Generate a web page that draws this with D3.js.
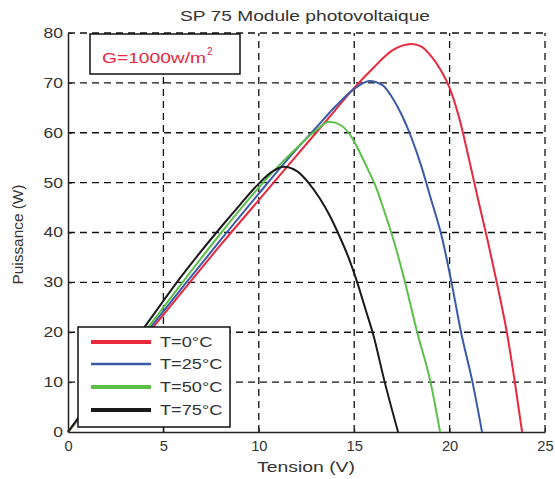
<!DOCTYPE html>
<html>
<head>
<meta charset="utf-8">
<script src="https://cdn.jsdelivr.net/npm/d3@7"></script>
<style>
  body { margin: 0; background: #fff; }
  text { font-family: "Liberation Sans", Arial, sans-serif; fill: #333; }
</style>
</head>
<body>
<div id="chart"></div>
<script>
// tick labels
const xTicks = [0, 5, 10, 15, 20, 25];
const yTicks = [0, 10, 20, 30, 40, 50, 60, 70, 80];

// series: voltage (V) and power (W)
const seriesNames = ["T=0°C", "T=25°C", "T=50°C", "T=75°C"];
const seriesColors = ["#e8283c", "#3a5aa8", "#5cbf4a", "#1a1a1a"];

const vT0 = [0, 2, 4, 6, 8, 10, 12, 14, 15, 16, 17, 18, 18.5, 19, 19.5, 20, 20.5, 21, 21.5, 22, 22.5, 23, 23.4, 23.8];
const pT0 = [0, 9.4, 18.8, 28.2, 37.5, 46.5, 55.5, 64.5, 69, 73, 76.5, 77.8, 77.3, 75.5, 72.8, 69, 63, 55, 46.5, 38.3, 29.5, 20, 10.5, 0];

const vT25 = [0, 2, 4, 6, 8, 10, 12, 13, 14, 15, 15.8, 16.5, 17, 17.5, 18, 18.5, 19, 19.6, 20.1, 20.6, 21.2, 21.7];
const pT25 = [0, 9.7, 19.4, 29, 38.5, 47.8, 56.8, 61, 65.2, 68.8, 70.4, 69.5, 67, 63.5, 59, 53.5, 47, 39, 30, 20, 10, 0];

const vT50 = [0, 2, 4, 6, 8, 10, 11, 12, 13, 13.7, 14.3, 14.8, 15.3, 15.8, 16.1, 16.6, 17.1, 17.6, 18.3, 19, 19.5];
const pT50 = [0, 10, 20, 30, 39.8, 49, 53.2, 57, 60.5, 62.2, 61.5, 59.5, 56, 52, 49.5, 44, 38, 31, 20, 10, 0];

const vT75 = [0, 2, 4, 6, 8, 9, 10, 10.7, 11.3, 12, 12.6, 13.2, 13.7, 14.2, 14.7, 15.2, 15.6, 16, 16.6, 17.3];
const pT75 = [0, 10.6, 21, 31.5, 41, 45.5, 49.8, 52.2, 53.2, 52.3, 50, 46.8, 43.5, 39.5, 35, 29.5, 24.5, 19.5, 10, 0];

const seriesV = [vT0, vT25, vT50, vT75];
const seriesP = [pT0, pT25, pT50, pT75];

const W = 555, H = 479;
const margin = {top: 33, right: 10, bottom: 47, left: 68};

const svg = d3.select("#chart").append("svg")
    .attr("width", W)
    .attr("height", H);

const x = d3.scaleLinear().domain([0, 25]).range([margin.left, 545]);
const y = d3.scaleLinear().domain([0, 80]).range([H - margin.bottom, margin.top]);

// the reference text is wider than the font, stretch it a bit
function stretch(sel, k) {
    sel.each(function() {
        const w = this.getComputedTextLength();
        d3.select(this).attr("textLength", w * k).attr("lengthAdjust", "spacingAndGlyphs");
    });
}

// dashed grid
const grid = svg.append("g").attr("stroke", "#111").attr("stroke-width", 1.3).attr("stroke-dasharray", "7,5");
grid.selectAll(".gx").data(xTicks.filter(d => d > 0)).enter().append("line")
    .attr("x1", d => x(d)).attr("x2", d => x(d))
    .attr("y1", y(0)).attr("y2", y(80));
grid.selectAll(".gy").data(yTicks.filter(d => d > 0)).enter().append("line")
    .attr("x1", x(0)).attr("x2", x(25))
    .attr("y1", d => y(d)).attr("y2", d => y(d));

// axes, MATLAB style inward ticks
const xAxis = svg.append("g").attr("transform", `translate(0,${y(0)})`)
    .call(d3.axisBottom(x).tickValues(xTicks).tickSize(-4).tickPadding(9).tickSizeOuter(0));
const yAxis = svg.append("g").attr("transform", `translate(${x(0)},0)`)
    .call(d3.axisLeft(y).tickValues(yTicks).tickSize(-4).tickPadding(5).tickSizeOuter(0));
[xAxis, yAxis].forEach(a => {
    a.select(".domain").attr("stroke", "#222").attr("stroke-width", 1.5);
    a.selectAll(".tick line").attr("stroke", "#222");
    a.selectAll("text").attr("font-size", 14).attr("fill", "#333")
        .attr("font-family", "'Liberation Sans', Arial, sans-serif");
});
stretch(yAxis.selectAll("text"), 1.25);
stretch(xAxis.selectAll("text"), 1.05);

// curves
const line = d3.line()
    .x(d => x(d[0]))
    .y(d => y(d[1]))
    .curve(d3.curveMonotoneX);

seriesV.forEach((vs, i) => {
    const pts = vs.map((v, j) => [v, seriesP[i][j]]);
    svg.append("path")
        .datum(pts)
        .attr("fill", "none")
        .attr("stroke", seriesColors[i])
        .attr("stroke-width", 2)
        .attr("d", line);
});

// title and labels
svg.append("text")
    .attr("x", 305).attr("y", 21)
    .attr("text-anchor", "middle")
    .attr("font-size", 15)
    .attr("textLength", 250).attr("lengthAdjust", "spacingAndGlyphs")
    .text("SP 75 Module photovoltaique");

svg.append("text")
    .attr("x", 306).attr("y", 472)
    .attr("text-anchor", "middle")
    .attr("font-size", 15)
    .attr("textLength", 98).attr("lengthAdjust", "spacingAndGlyphs")
    .text("Tension (V)");

svg.append("text")
    .attr("transform", `translate(23,${(y(0) + y(80)) / 2 + 2}) rotate(-90)`)
    .attr("text-anchor", "middle")
    .attr("font-size", 14)
    .attr("textLength", 100).attr("lengthAdjust", "spacingAndGlyphs")
    .text("Puissance (W)");

// irradiance box
svg.append("rect")
    .attr("x", 90).attr("y", 34).attr("width", 150).attr("height", 40)
    .attr("fill", "#fff").attr("stroke", "#111").attr("stroke-width", 1.5);
svg.append("text")
    .attr("x", 102).attr("y", 63)
    .attr("font-size", 14)
    .attr("textLength", 104).attr("lengthAdjust", "spacingAndGlyphs")
    .style("fill", "#e8283c")
    .text("G=1000w/m");
svg.append("text")
    .attr("x", 207).attr("y", 55)
    .attr("font-size", 10)
    .style("fill", "#e8283c")
    .text("2");

// legend
const legend = svg.append("g");
legend.append("rect")
    .attr("x", 78).attr("y", 327).attr("width", 152).attr("height", 100)
    .attr("fill", "#fff").attr("stroke", "#111").attr("stroke-width", 1.5);
const legY = [342, 364, 387, 410];
seriesNames.forEach((name, i) => {
    legend.append("line")
        .attr("x1", 91).attr("x2", 151)
        .attr("y1", legY[i]).attr("y2", legY[i])
        .attr("stroke", seriesColors[i])
        .attr("stroke-width", i === 1 ? 2.5 : 4);
    legend.append("text")
        .attr("x", 160).attr("y", legY[i] + 5)
        .attr("font-size", 14)
        .text(name)
        .call(stretch, 1.3);
});
</script>
</body>
</html>
